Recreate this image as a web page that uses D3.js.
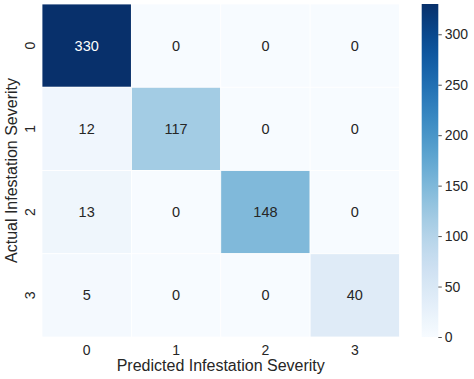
<!DOCTYPE html>
<html>
<head>
<meta charset="utf-8">
<script src="https://cdn.jsdelivr.net/npm/d3@7"></script>
<style>
body { margin: 0; background: #fff; }
text { font-family: "Liberation Sans", Arial, sans-serif; fill: #262626; }
</style>
</head>
<body>
<div id="chart"></div>
<script>
// confusion matrix values
var classes = ["0", "1", "2", "3"];
var matrix = [
  [330, 0, 0, 0],
  [12, 117, 0, 0],
  [13, 0, 148, 0],
  [5, 0, 0, 40]
];
var cbarTicks = [0, 50, 100, 150, 200, 250, 300];

var W = 474, H = 379;
var mLeft = 42, mTop = 4, mRight = 399.5, mBottom = 337;

var svg = d3.select("#chart").append("svg")
    .attr("width", W)
    .attr("height", H);

var x = d3.scaleBand().domain(classes).range([mLeft, mRight]);
var y = d3.scaleBand().domain(classes).range([mTop, mBottom]);
var vmax = d3.max(matrix, function(r) { return d3.max(r); });
var color = d3.scaleSequential(d3.interpolateBlues).domain([0, vmax]);

var cells = [];
matrix.forEach(function(row, i) {
  row.forEach(function(v, j) {
    cells.push({r: classes[i], c: classes[j], v: v});
  });
});

svg.selectAll(".cell")
    .data(cells)
  .enter().append("rect")
    .attr("class", "cell")
    .attr("x", function(d) { return x(d.c); })
    .attr("y", function(d) { return y(d.r); })
    .attr("width", x.bandwidth())
    .attr("height", y.bandwidth())
    .attr("fill", function(d) { return color(d.v); })
    .attr("stroke", "#fff")
    .attr("stroke-width", 0.8);

svg.selectAll(".annot")
    .data(cells)
  .enter().append("text")
    .attr("class", "annot")
    .attr("x", function(d) { return x(d.c) + x.bandwidth() / 2; })
    .attr("y", function(d) { return y(d.r) + y.bandwidth() / 2; })
    .attr("text-anchor", "middle")
    .attr("dominant-baseline", "central")
    .style("font-size", "14.5px")
    .style("fill", function(d) { return d.v > vmax * 0.6 ? "#fff" : "#262626"; })
    .text(function(d) { return d.v; });

// x tick labels
svg.selectAll(".xt")
    .data(classes)
  .enter().append("text")
    .attr("x", function(d) { return x(d) + x.bandwidth() / 2; })
    .attr("y", 354.5)
    .attr("text-anchor", "middle")
    .style("font-size", "14px")
    .text(function(d) { return d; });

// y tick labels (rotated)
svg.selectAll(".yt")
    .data(classes)
  .enter().append("text")
    .attr("transform", function(d) {
      return "translate(35," + (y(d) + y.bandwidth() / 2) + ") rotate(-90)";
    })
    .attr("text-anchor", "middle")
    .style("font-size", "14px")
    .text(function(d) { return d; });

svg.append("text")
    .attr("x", (mLeft + mRight) / 2)
    .attr("y", 371)
    .attr("text-anchor", "middle")
    .style("font-size", "16px")
    .text("Predicted Infestation Severity");

svg.append("text")
    .attr("transform", "translate(17," + ((mTop + mBottom) / 2) + ") rotate(-90)")
    .attr("text-anchor", "middle")
    .style("font-size", "16px")
    .text("Actual Infestation Severity");

// colorbar
var cbX = 421.7, cbW = 16.6;
var defs = svg.append("defs");
var grad = defs.append("linearGradient")
    .attr("id", "cbgrad")
    .attr("x1", 0).attr("y1", 1).attr("x2", 0).attr("y2", 0);
d3.range(0, 1.0001, 0.05).forEach(function(t) {
  grad.append("stop")
      .attr("offset", t)
      .attr("stop-color", d3.interpolateBlues(t));
});
svg.append("rect")
    .attr("x", cbX)
    .attr("y", mTop)
    .attr("width", cbW)
    .attr("height", mBottom - mTop)
    .attr("fill", "url(#cbgrad)");

var cy = d3.scaleLinear().domain([0, vmax]).range([mBottom, mTop]);
var cbAxis = svg.append("g")
    .attr("transform", "translate(" + (cbX + cbW) + ",0)")
    .call(d3.axisRight(cy).tickValues(cbarTicks).tickSize(3.5).tickPadding(3));
cbAxis.select(".domain").remove();
cbAxis.selectAll("line").attr("stroke", "#262626").attr("stroke-width", 0.8);
cbAxis.selectAll("text")
    .style("font-size", "14px")
    .style("font-family", "'Liberation Sans', Arial, sans-serif")
    .attr("fill", "#262626");
</script>
</body>
</html>
